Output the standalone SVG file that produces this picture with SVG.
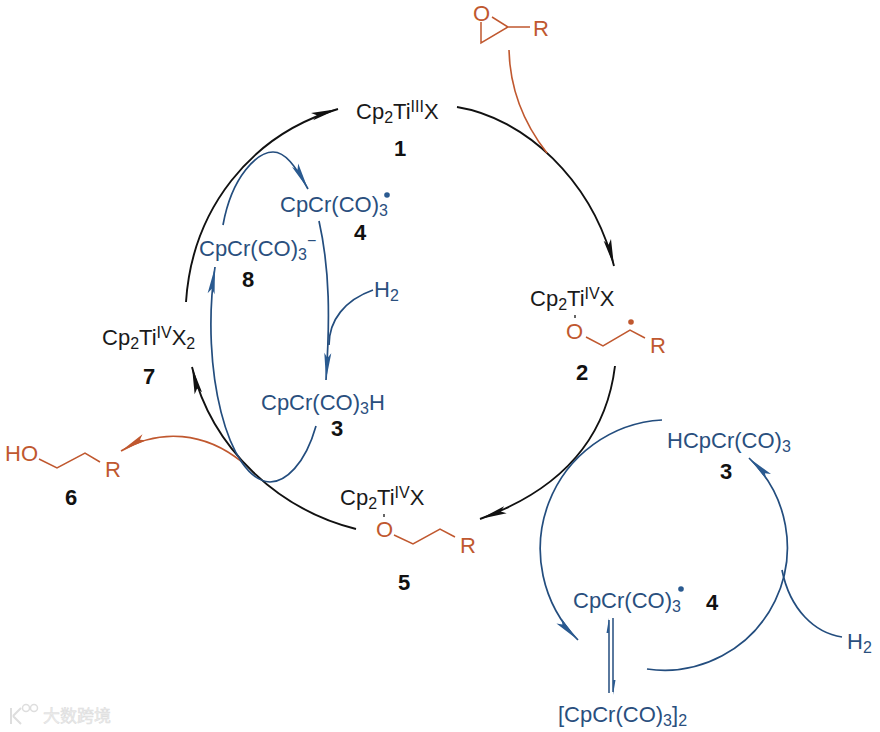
<svg xmlns="http://www.w3.org/2000/svg" width="880" height="732" viewBox="0 0 880 732">
<style>
text{font-family:"Liberation Sans",Arial,"Noto Sans CJK SC",sans-serif;font-size:22px}
.k{fill:#1a1a1a}.b{fill:#2a4f7e}.o{fill:#c0582f}
.n{font-weight:bold;font-size:22px;fill:#111;text-anchor:middle}
.s{font-size:16px}
.c{fill:none;stroke-width:1.9}
.ck{stroke:#111}.cb{stroke:#234d7e;stroke-width:1.7}.co{stroke:#c0582f;stroke-width:1.6}
.bo{fill:none;stroke:#c0582f;stroke-width:1.5}
.wm{fill:#ececec;stroke:#dcdcdc;stroke-width:.5;font-size:17px}
</style>
<defs>
<marker id="ak" markerUnits="userSpaceOnUse" markerWidth="34" markerHeight="10" viewBox="0 0 34 10" refX="33" refY="5" orient="auto"><path d="M33,5L6,1.200L11,5L6,8.800Z" fill="#111"/></marker>
<marker id="ab" markerUnits="userSpaceOnUse" markerWidth="34" markerHeight="10" viewBox="0 0 34 10" refX="33" refY="5" orient="auto"><path d="M33,5L6,1.500L11,5L6,8.500Z" fill="#2a5a90"/></marker>
<marker id="ao" markerUnits="userSpaceOnUse" markerWidth="34" markerHeight="10" viewBox="0 0 34 10" refX="33" refY="5" orient="auto"><path d="M33,5L6,1.500L11,5L6,8.500Z" fill="#c0582f"/></marker>
</defs>
<g id="connectors">
<path class="c ck" marker-end="url(#ak)" d="M457,107C525,118 592,180 614,266"/>
<path class="c ck" marker-end="url(#ak)" d="M615,366C606,440 560,490 480,519"/>
<path class="c ck" marker-end="url(#ak)" d="M356,529C280,510 212,450 192,367"/>
<path class="c ck" marker-end="url(#ak)" d="M186,302C192,210 250,135 338,109"/>
<path class="c co" d="M509,50C510,90 525,125 547,153"/>
<path class="c co" marker-end="url(#ao)" d="M242,462C205,432 160,428 121,451"/>
<path class="c cb" d="M223,225C232,175 258,152 273,152C285,152 295,165 308,189" marker-end="url(#ab)"/>
<path class="c cb" d="M319,221C330,270 330,320 326,380" marker-end="url(#ab)"/>
<path class="c cb" d="M373,290C345,300 329,320 329,345"/>
<path class="c cb" d="M316,426C305,465 285,482 270,482C228,480 200,370 215,267" marker-end="url(#ab)"/>
<path class="c cb" d="M662,420A129,129 0 0 0 578,640" marker-end="url(#ab)"/>
<path class="c cb" d="M647,669A123,123 0 0 0 749,458" marker-end="url(#ab)"/>
<path class="c cb" d="M782,570C790,610 815,633 842,637"/>
<path class="c cb" style="stroke-width:1.5" d="M609,693V620"/>
<path class="c cb" style="stroke-width:1.5" d="M613,618V692"/>
<path fill="#2a5a90" d="M609,618L606.500,633H609ZM613,695L615.500,680H613Z"/>
</g>
<g id="epoxide">
<text class="o" x="473" y="21">O</text><text class="o" x="533" y="36">R</text>
<path class="bo" d="M481,22V43L508,27L492,17M508,27H530"/>
</g>
<g id="node1"><text class="k" x="356" y="119">Cp<tspan class="s" dy="4">2</tspan><tspan dy="-4">Ti</tspan><tspan class="s" dy="-7">III</tspan><tspan dy="7">X</tspan></text><text class="n" x="400" y="156">1</text></g>
<g id="node2"><text class="k" x="530" y="306">Cp<tspan class="s" dy="4">2</tspan><tspan dy="-4">Ti</tspan><tspan class="s" dy="-7">IV</tspan><tspan dy="7">X</tspan></text>
<path class="bo" style="stroke:#333" d="M575,315V318"/><text class="o" x="566" y="339">O</text>
<path class="bo" d="M586,337L603,346L630,330L645,338"/><circle class="o" cx="631" cy="322" r="2.800"/><text class="o" x="650" y="353">R</text><text class="n" x="582" y="380">2</text></g>
<g id="node5"><text class="k" x="340" y="505">Cp<tspan class="s" dy="4">2</tspan><tspan dy="-4">Ti</tspan><tspan class="s" dy="-7">IV</tspan><tspan dy="7">X</tspan></text>
<path class="bo" style="stroke:#333" d="M384,514V517"/><text class="o" x="376" y="537">O</text>
<path class="bo" d="M394,535L413,544L440,529L455,537"/><text class="o" x="460" y="553">R</text><text class="n" x="404" y="590">5</text></g>
<g id="node6"><text class="o" x="5" y="461">HO</text><path class="bo" d="M39,459L57,468L85,453L100,462"/><text class="o" x="105" y="477">R</text><text class="n" x="71" y="505">6</text></g>
<g id="node7"><text class="k" x="102" y="345">Cp<tspan class="s" dy="4">2</tspan><tspan dy="-4">Ti</tspan><tspan class="s" dy="-7">IV</tspan><tspan dy="7">X</tspan><tspan class="s" dy="4">2</tspan></text><text class="n" x="149" y="384">7</text></g>
<g id="node8"><text class="b" x="199" y="256">CpCr(CO)<tspan class="s" dy="4">3</tspan><tspan class="s" dy="-14">−</tspan></text><text class="n" x="248" y="287">8</text></g>
<g id="node4a"><text class="b" x="280" y="212">CpCr(CO)<tspan class="s" dy="4">3</tspan></text><circle cx="387" cy="195" r="2.800" fill="#2a5a90"/><text class="n" x="360" y="240">4</text></g>
<g id="h2a"><text class="b" x="374" y="297">H<tspan class="s" dy="4">2</tspan></text></g>
<g id="node3a"><text class="b" x="261" y="410">CpCr(CO)<tspan class="s" dy="4">3</tspan><tspan dy="-4">H</tspan></text><text class="n" x="337" y="436">3</text></g>
<g id="node3b"><text class="b" x="667" y="448">HCpCr(CO)<tspan class="s" dy="4">3</tspan></text><text class="n" x="726" y="479">3</text></g>
<g id="node4b"><text class="b" x="573" y="608">CpCr(CO)<tspan class="s" dy="4">3</tspan></text><circle cx="681" cy="589" r="2.800" fill="#2a5a90"/><text class="n" x="712" y="610">4</text></g>
<g id="h2b"><text class="b" x="847" y="649">H<tspan class="s" dy="4">2</tspan></text></g>
<g id="dimer"><text class="b" x="558" y="722">[CpCr(CO)<tspan class="s" dy="4">3</tspan><tspan dy="-4">]</tspan><tspan class="s" dy="4">2</tspan></text></g>
<g id="watermark"><path d="M11,708V724M13,716L21,708M13,716L21,724" fill="none" stroke="#dedede" stroke-width="2"/><circle cx="26" cy="708" r="3.500" fill="none" stroke="#dedede" stroke-width="1.500"/><circle cx="34" cy="708" r="3.500" fill="none" stroke="#dedede" stroke-width="1.500"/><text class="wm" x="43" y="722">大数跨境</text></g>
</svg>
